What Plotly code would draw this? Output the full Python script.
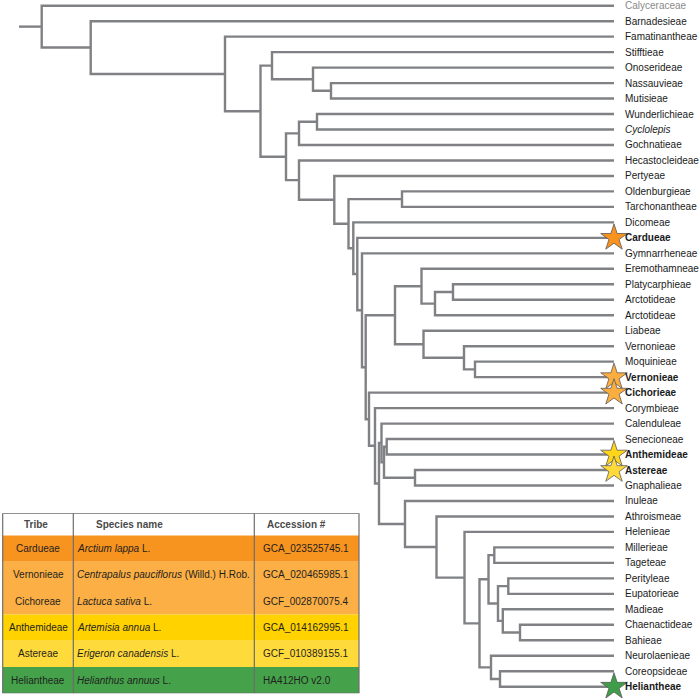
import plotly.graph_objects as go

# ---------------- data ----------------
LEAVES = ["Calyceraceae", "Barnadesieae", "Famatinantheae", "Stifftieae", "Onoserideae",
          "Nassauvieae", "Mutisieae", "Wunderlichieae", "Cyclolepis", "Gochnatieae",
          "Hecastocleideae", "Pertyeae", "Oldenburgieae", "Tarchonantheae", "Dicomeae",
          "Cardueae", "Gymnarrheneae", "Eremothamneae", "Platycarphieae", "Arctotideae",
          "Arctotideae", "Liabeae", "Vernonieae", "Moquinieae", "Vernonieae",
          "Cichorieae", "Corymbieae", "Calenduleae", "Senecioneae", "Anthemideae",
          "Astereae", "Gnaphalieae", "Inuleae", "Athroismeae", "Helenieae",
          "Millerieae", "Tageteae", "Perityleae", "Eupatorieae", "Madieae",
          "Chaenactideae", "Bahieae", "Neurolaenieae", "Coreopsideae", "Heliantheae"]
BOLD_LEAVES = [15, 24, 25, 29, 30, 44]
ITALIC_LEAVES = [8]
GREY_LEAVES = [0]

# internal nodes: name, depth (x position of the node), children (leaf index or node name)
NODE_NAMES = ["G", "F", "E", "J", "I", "N", "V", "U", "T", "Y", "X", "W", "S",
              "AE", "AF", "AD", "AC", "AL", "AN", "AP", "AO", "AM", "AK", "AR", "AQ",
              "AJ", "AI", "AH", "AG", "AB", "AA", "Z", "R", "Q", "P", "O", "M", "L",
              "K", "H", "D", "C", "B", "root"]
NODE_DEPTH = [331, 313, 272, 317, 299, 402, 453, 435, 421.5, 475, 464, 423.5, 395,
              386.7, 415, 384, 381.5, 494.3, 508.3, 520, 502.8, 498, 488.5, 500, 491,
              479.5, 464.5, 436.5, 405, 379, 375, 369, 365.7, 362, 357.3, 353.3, 348.5, 334.3,
              299, 286, 260.5, 225, 90.7, 41.7]
NODE_CHILDREN = [[5, 6], [4, "G"], [3, "F"], [7, 8], ["J", 9], [12, 13], [18, 19], ["V", 20],
                 [17, "U"], [23, 24], [22, "Y"], [21, "X"], ["T", "W"],
                 [28, 29], [30, 31], ["AE", "AF"], [27, "AD"], [35, 36], [37, 38], [40, 41],
                 [39, "AP"], ["AN", "AO"], ["AL", "AM"], [43, 44], [42, "AR"],
                 ["AK", "AQ"], [34, "AJ"], [33, "AI"], [32, "AH"], ["AC", "AG"], [26, "AB"],
                 [25, "AA"], ["S", "Z"], [16, "R"], [15, "Q"], [14, "P"], ["N", "O"], [11, "M"],
                 [10, "L"], ["I", "K"], ["E", "H"], [2, "D"], [1, "C"], [0, "B"]]
TIP_DEPTH = 614
ROOT_STEM = 19

STAR_LEAVES = [15, 24, 25, 29, 30, 44]
STAR_COLORS = ["#F7931E", "#FBAE3F", "#FBAE3F", "#FFD519", "#FFDA38", "#3F9C48"]

# table
TABLE_HEADER = ["Tribe", "Species name", "Accession #"]
TRIBES = ["Cardueae", "Vernonieae", "Cichoreae", "Anthemideae", "Astereae", "Heliantheae"]
SPECIES_ITALIC = ["Arctium lappa", "Centrapalus pauciflorus", "Lactuca sativa",
                  "Artemisia annua", "Erigeron canadensis", "Helianthus annuus"]
SPECIES_AUTHOR = ["L.", "(Willd.) H.Rob.", "L.", "L.", "L.", "L."]
ACCESSIONS = ["GCA_023525745.1", "GCA_020465985.1", "GCF_002870075.4",
              "GCA_014162995.1", "GCF_010389155.1", "HA412HO v2.0"]
ROW_COLORS = ["#F7931F", "#FBAF45", "#FBAF45", "#FFD200", "#FFDA3B", "#45A24A"]
COL_EDGES = [2.7, 73.3, 254.3, 359]

LINE_COLOR = "#808184"
FONT = "Liberation Sans, Arial, sans-serif"

# ---------------- tree geometry ----------------
node_x = dict(zip(NODE_NAMES, NODE_DEPTH))
node_kids = dict(zip(NODE_NAMES, NODE_CHILDREN))
node_y = {}


def pos(c):
    if isinstance(c, int):
        return TIP_DEPTH, float(c)
    if c not in node_y:
        ys = [pos(k)[1] for k in node_kids[c]]
        node_y[c] = (ys[0] + ys[-1]) / 2.0
    return node_x[c], node_y[c]


xs, ys = [], []
for name in NODE_NAMES:
    nx, ny = pos(name)
    (x1, y1), (x2, y2) = pos(node_kids[name][0]), pos(node_kids[name][1])
    xs += [x1, nx, nx, x2, None]
    ys += [y1, y1, y2, y2, None]
rx, ry = pos("root")
xs += [ROOT_STEM, rx, None]
ys += [ry, ry, None]

fig = go.Figure()
fig.add_trace(go.Scatter(x=xs, y=ys, mode="lines",
                         line=dict(color=LINE_COLOR, width=2.4),
                         hoverinfo="skip", showlegend=False))

# stars
fig.add_trace(go.Scatter(x=[TIP_DEPTH] * len(STAR_LEAVES), y=STAR_LEAVES, mode="markers",
                         marker=dict(symbol="star", size=20, color=STAR_COLORS,
                                     line=dict(color="#5a5a5a", width=0.8)),
                         hoverinfo="skip", showlegend=False, cliponaxis=False))

annotations = []
for i, lab in enumerate(LEAVES):
    txt = lab
    color = "#1a1a1a"
    if i in BOLD_LEAVES:
        txt = "<b>" + txt + "</b>"
    if i in ITALIC_LEAVES:
        txt = "<i>" + txt + "</i>"
    if i in GREY_LEAVES:
        color = "#8a8a8a"
    annotations.append(dict(x=TIP_DEPTH + 9, y=i, xref="x", yref="y", text=txt,
                            showarrow=False, xanchor="left", yanchor="middle",
                            font=dict(family=FONT, size=10, color=color)))

# ---------------- table ----------------
shapes = []
n_rows = len(TRIBES)
HDR = -0.845
for r in range(n_rows):
    shapes.append(dict(type="rect", xref="x", yref="y2", x0=COL_EDGES[0], x1=COL_EDGES[-1],
                       y0=r, y1=r + 1, fillcolor=ROW_COLORS[r], line=dict(width=0), layer="below"))
shapes.append(dict(type="rect", xref="x", yref="y2", x0=COL_EDGES[0], x1=COL_EDGES[-1],
                   y0=HDR, y1=n_rows, fillcolor="rgba(0,0,0,0)",
                   line=dict(color="#6d6d6d", width=1.2)))
for ce in COL_EDGES[1:-1]:
    shapes.append(dict(type="line", xref="x", yref="y2", x0=ce, x1=ce, y0=HDR, y1=n_rows,
                       line=dict(color="#6d6d6d", width=1.2)))

hdr_font = dict(family=FONT, size=10, color="#4a4a4a")
annotations.append(dict(x=(COL_EDGES[0] + COL_EDGES[1]) / 2 - 2, y=HDR / 2, xref="x", yref="y2",
                        text="<b>" + TABLE_HEADER[0] + "</b>", showarrow=False,
                        xanchor="center", yanchor="middle", font=hdr_font))
annotations.append(dict(x=COL_EDGES[1] + 21, y=HDR / 2, xref="x", yref="y2",
                        text="<b>" + TABLE_HEADER[1] + "</b>", showarrow=False,
                        xanchor="left", yanchor="middle", font=hdr_font))
annotations.append(dict(x=COL_EDGES[2] + 11, y=HDR / 2, xref="x", yref="y2",
                        text="<b>" + TABLE_HEADER[2] + "</b>", showarrow=False,
                        xanchor="left", yanchor="middle", font=hdr_font))
cell_font = dict(family=FONT, size=10, color="#1f1f1f")
for r in range(n_rows):
    yc = r + 0.5
    annotations.append(dict(x=(COL_EDGES[0] + COL_EDGES[1]) / 2, y=yc, xref="x", yref="y2",
                            text=TRIBES[r], showarrow=False, xanchor="center",
                            yanchor="middle", font=cell_font))
    annotations.append(dict(x=COL_EDGES[1] + 2, y=yc, xref="x", yref="y2",
                            text="<i>" + SPECIES_ITALIC[r] + "</i> " + SPECIES_AUTHOR[r],
                            showarrow=False, xanchor="left", yanchor="middle", font=cell_font))
    annotations.append(dict(x=COL_EDGES[2] + 7, y=yc, xref="x", yref="y2",
                            text=ACCESSIONS[r], showarrow=False, xanchor="left",
                            yanchor="middle", font=cell_font))

W, H = 700, 698
top_px, step_px = 5.7, 15.477
last = len(LEAVES) - 1
fig.update_layout(
    width=W, height=H, margin=dict(l=0, r=0, t=0, b=0, pad=0),
    paper_bgcolor="white", plot_bgcolor="rgba(0,0,0,0)",
    showlegend=False,
    xaxis=dict(range=[0, W], domain=[0, 1], visible=False, fixedrange=True),
    yaxis=dict(range=[last + (H - (top_px + last * step_px)) / step_px, -top_px / step_px],
               domain=[0, 1], visible=False, fixedrange=True),
    yaxis2=dict(range=[n_rows, HDR], domain=[1 - 693.3 / H, 1 - 513.3 / H],
                visible=False, fixedrange=True, anchor="x"),
    shapes=shapes, annotations=annotations,
    font=dict(family=FONT),
)

fig.write_html("out.html", config={"displayModeBar": False},
               post_script="document.body.style.margin='0px';document.body.style.overflow='hidden';")
